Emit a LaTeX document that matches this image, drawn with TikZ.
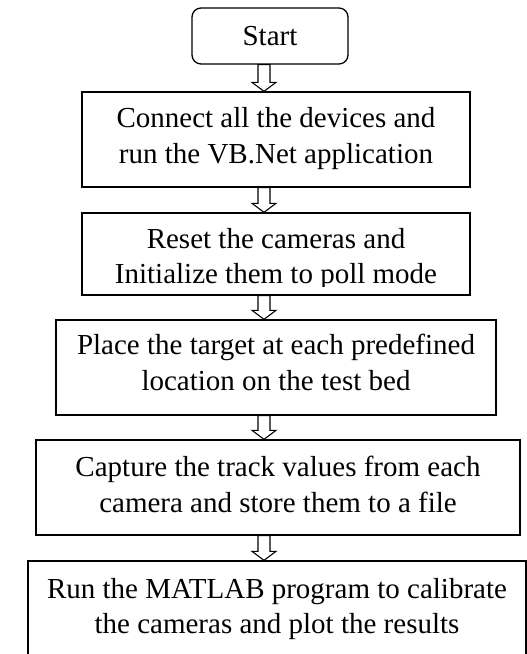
\documentclass[tikz,border=0pt]{standalone}
\usepackage{fontspec}
\setmainfont{Liberation Serif}
\usetikzlibrary{calc}
\begin{document}
\begin{tikzpicture}[x=1pt,y=-1pt]
\tikzset{
  box/.style={draw=black,line width=1.3pt,fill=white,inner sep=0pt,rectangle},
  startbox/.style={box,rounded corners=9pt},
  txt/.style={font=\fontsize{29}{36}\selectfont,align=center,inner sep=0pt},
  txtmid/.style={font=\fontsize{29}{35}\selectfont,align=center,inner sep=0pt},
  flowarrow/.style={draw=black,line width=1.1pt,fill=white,line join=miter}
}
\newcommand{\hollowarrow}[2]{%
  \draw[flowarrow] let \p1=(#1.south), \p2=(#2.north) in
    (258pt,\y1) -- (258pt,{\y2+9pt}) -- (252pt,{\y2+9pt}) -- (264pt,\y2)
    -- (276pt,{\y2+9pt}) -- (270pt,{\y2+9pt}) -- (270pt,\y1) -- cycle;}
\useasboundingbox (0,0) rectangle (527,654);
\fill[white] (0,0) rectangle (527,654);

% boxes
\node[startbox,minimum width=156pt,minimum height=56pt] (b1) at (270,36)
  {\fontsize{29}{36}\selectfont Start};
\node[box,minimum width=388pt,minimum height=95pt] (b2) at (276,139.5) {};
\node[box,minimum width=388pt,minimum height=82pt] (b3) at (276,254) {};
\node[box,minimum width=440pt,minimum height=95pt] (b4) at (276,367.5) {};
\node[box,minimum width=484pt,minimum height=95pt] (b5) at (278,487.5) {};
\node[box,minimum width=498pt,minimum height=119pt] (b6) at (277,620.5) {};

% texts
\node[txt] (t2) at (276,138.8) {Connect all the devices and\\run the VB.Net application};
\begin{scope}
  \clip (82,213) rectangle (470,286);
  \node[txtmid] (t3) at (276,258.8) {Reset the cameras and\\Initialize them to poll mode};
\end{scope}
\node[txt] (t4) at (276,362.1) {Place the target at each predefined\\location on the test bed};
\node[txt] (t5) at (278,484.1) {Capture the track values from each\\camera and store them to a file};
\node[txtmid] (t6) at (277,608.8) {Run the MATLAB program to calibrate\\the cameras and plot the results};

% arrows
\hollowarrow{b1}{b2}
\hollowarrow{b2}{b3}
\hollowarrow{b3}{b4}
\hollowarrow{b4}{b5}
\hollowarrow{b5}{b6}
\end{tikzpicture}
\end{document}
